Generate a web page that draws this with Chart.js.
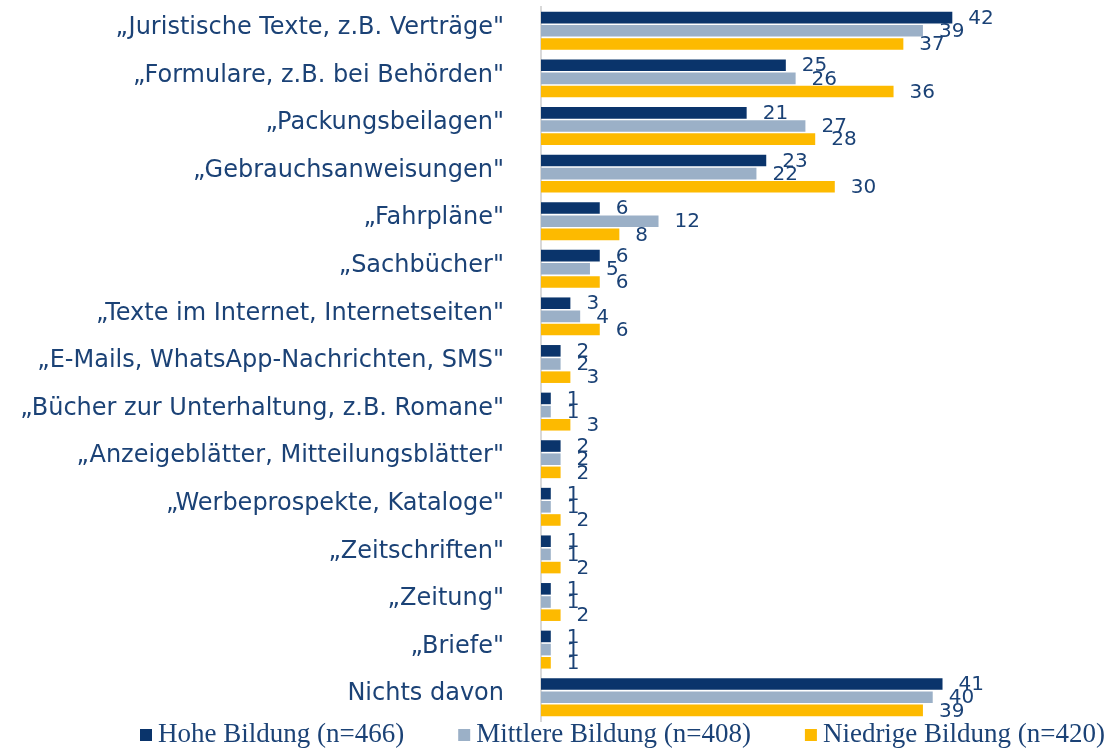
<!DOCTYPE html>
<html><head><meta charset="utf-8">
<script src="https://cdn.jsdelivr.net/npm/chart.js@4"></script>
<style>html,body{margin:0;padding:0;background:#fff}#wrap{width:1113px;height:748px}</style>
</head><body><div id="wrap"><canvas id="c" width="1113" height="748"></canvas></div>
<script>
const categories = ['„Juristische Texte, z.B. Verträge"','„Formulare, z.B. bei Behörden"','„Packungsbeilagen"','„Gebrauchsanweisungen"','„Fahrpläne"','„Sachbücher"','„Texte im Internet, Internetseiten"','„E-Mails, WhatsApp-Nachrichten, SMS"','„Bücher zur Unterhaltung, z.B. Romane"','„Anzeigeblätter, Mitteilungsblätter"','„Werbeprospekte, Kataloge"','„Zeitschriften"','„Zeitung"','„Briefe"','Nichts davon'];
const seriesNames = ['Hohe Bildung (n=466)','Mittlere Bildung (n=408)','Niedrige Bildung (n=420)'];
const hohe     = [42,25,21,23,6,6,3,2,1,2,1,1,1,1,41];
const mittlere = [39,26,27,22,12,5,4,2,1,2,1,1,1,1,40];
const niedrige = [37,36,28,30,8,6,6,3,3,2,2,2,2,1,39];
const colors = ['#0A346B','#9BB0C7','#FDBA00'];
const textColor = '#1B4276';

const labelPlugin = {
  id:'vals',
  afterDatasetsDraw(chart){
    const ctx = chart.ctx;
    ctx.save();
    ctx.font = '20px "DejaVu Sans", sans-serif';
    ctx.fillStyle = textColor;
    ctx.textAlign = 'left';
    ctx.textBaseline = 'middle';
    chart.data.datasets.forEach((ds,i)=>{
      chart.getDatasetMeta(i).data.forEach((bar,j)=>{
        ctx.fillText(String(ds.data[j]), bar.x + 16, bar.y + 1);
      });
    });
    ctx.restore();
  }
};

const legendPlugin = {
  id:'customLegend',
  afterDraw(chart){
    const ctx = chart.ctx;
    ctx.save();
    ctx.font = '27px "Liberation Serif", serif';
    ctx.textBaseline = 'middle';
    ctx.textAlign = 'left';
    const y = 735;
    let x = 140;
    chart.data.datasets.forEach((ds,i)=>{
      ctx.fillStyle = ds.backgroundColor;
      ctx.fillRect(x, y - 6, 12, 12);
      ctx.fillStyle = textColor;
      ctx.fillText(ds.label, x + 18, y);
      x += 18 + ctx.measureText(ds.label).width + 54;
    });
    ctx.restore();
  }
};

new Chart(document.getElementById('c'), {
  type:'bar',
  data:{
    labels: categories,
    datasets:[hohe,mittlere,niedrige].map((d,i)=>({label:seriesNames[i],data:d,backgroundColor:colors[i],categoryPercentage:0.83,barPercentage:0.88}))
  },
  options:{
    indexAxis:'y',
    responsive:false,
    animation:false,
    layout:{padding:{top:7,right:4,left:0,bottom:27}},
    scales:{
      x:{display:false,min:0,max:58},
      y:{
        grid:{display:false,drawTicks:true,tickLength:37},
        border:{display:true,color:'#D9D9D9',width:2},
        ticks:{color:textColor,font:{family:'"DejaVu Sans", sans-serif',size:24},padding:0,labelOffset:-3,autoSkip:false},
        afterFit(s){ s.width = 541; s.paddingTop = 0; s.paddingBottom = 0; }
      }
    },
    plugins:{
      tooltip:{enabled:false},
      legend:{display:false}
    }
  },
  plugins:[labelPlugin, legendPlugin]
});
</script></body></html>
